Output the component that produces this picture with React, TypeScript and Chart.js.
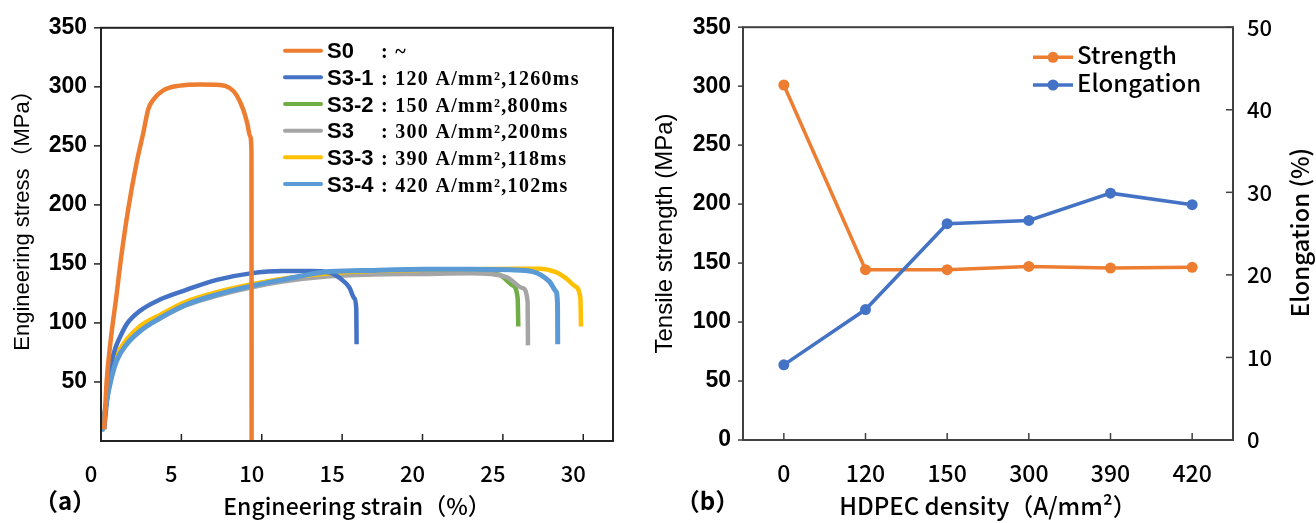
import React, { useEffect, useRef } from 'react';
import { Chart, registerables } from 'chart.js';

Chart.register(...registerables);

// ---------- Panel (a): engineering stress-strain curves ----------
const strainS0 = [0.2, 0.35, 0.6, 0.97, 1.22, 1.7, 2.22, 2.63, 2.94, 3.25, 3.87, 4.91, 6.15, 7.39, 8.01, 8.43, 8.84, 9.1, 9.28, 9.36, 9.37];
const stressS0 = [10, 50, 85, 124, 152, 197, 236, 261, 281, 289, 297, 301, 302, 301.6, 299, 293, 281, 269, 258, 245, 0];

const strainS31 = [0.2, 0.45, 0.65, 0.9, 1.18, 1.6, 2.4, 3.7, 5.3, 7.2, 9.3, 11.3, 13.0, 14.2, 14.85, 15.45, 15.75, 15.88, 15.9];
const stressS31 = [10, 45, 66, 79, 88, 99, 110, 120, 128, 136.5, 142, 144, 144, 143, 138, 130, 121, 112, 82];

const strainS32 = [0.1, 0.4, 0.7, 1.0, 1.6, 2.4, 3.7, 5.3, 7.2, 9.3, 11.3, 14.2, 17, 20, 23, 24.78, 25.6, 25.92, 25.96];
const stressS32 = [9, 39, 59, 72, 85, 96, 106, 117, 125.5, 132, 137, 141.5, 142.5, 143, 143, 140.8, 132, 121, 97];

const strainS3 = [0.1, 0.4, 0.7, 1.0, 1.6, 2.4, 3.7, 5.3, 7.2, 9.3, 11.3, 14.2, 17, 20, 23, 25.2, 26.23, 26.54, 26.56];
const stressS3 = [9, 38, 57, 70, 83, 94, 104, 115, 123, 130, 135, 139.5, 141, 141.5, 142, 139, 129.5, 118, 81];

const strainS33 = [0.1, 0.4, 0.7, 1.0, 1.6, 2.4, 3.7, 5.3, 7.2, 9.3, 11.3, 14.2, 17, 20, 23, 26, 27.27, 28.3, 28.92, 29.5, 29.82, 29.86];
const stressS33 = [9, 40, 60, 73, 86, 97, 107, 118, 126, 132.5, 137.5, 142, 144, 145, 145.5, 146, 146, 143, 138, 131, 121, 97];

const strainS34 = [0.05, 0.35, 0.66, 0.97, 1.6, 2.42, 3.66, 5.32, 7.19, 9.25, 11.32, 14.2, 17, 20, 23, 25.5, 26.85, 27.9, 28.3, 28.4, 28.41];
const stressS34 = [8, 34, 54, 68, 82, 93, 104, 115.6, 124, 131, 136.6, 143.5, 144.5, 145.5, 145.5, 145, 143.5, 135, 126.7, 115.6, 82];

const seriesNamesA = ['S0', 'S3-1', 'S3-2', 'S3', 'S3-3', 'S3-4'];
const seriesNotesA = [': ~', ': 120 A/mm²,1260ms', ': 150 A/mm²,800ms', ': 300 A/mm²,200ms', ': 390 A/mm²,118ms', ': 420 A/mm²,102ms'];
const seriesStrainA = [strainS0, strainS31, strainS32, strainS3, strainS33, strainS34];
const seriesStressA = [stressS0, stressS31, stressS32, stressS3, stressS33, stressS34];
const seriesColorsA = ['#ED7D31', '#4472C4', '#70AD47', '#A5A5A5', '#FFC000', '#5B9BD5'];
const seriesOrderA = [0, 2, 5, 4, 3, 1];

const strainTicksA = [0, 5, 10, 15, 20, 25, 30];
const stressTicksA = [50, 100, 150, 200, 250, 300, 350];

// ---------- Panel (b): strength / elongation vs HDPEC density ----------
const densityLabels = ['0', '120', '150', '300', '390', '420'];
const strengthValues = [301, 144.4, 144.4, 147.2, 145.8, 146.4];
const elongationValues = [9.1, 15.8, 26.2, 26.6, 29.9, 28.5];
const strengthTicks = [0, 50, 100, 150, 200, 250, 300, 350];
const elongationTicks = [0, 10, 20, 30, 40, 50];

const ARIAL = '"Liberation Sans", Arial, "Noto Sans CJK JP", sans-serif';
const GOTHIC = '"Noto Sans CJK JP", "Noto Sans", sans-serif';
const TIMES = '"Liberation Serif", "Times New Roman", serif';

function line(ctx: CanvasRenderingContext2D, x1: number, y1: number, x2: number, y2: number) {
  ctx.beginPath();
  ctx.moveTo(x1, y1);
  ctx.lineTo(x2, y2);
  ctx.stroke();
}

function rotatedText(ctx: CanvasRenderingContext2D, text: string, x: number, y: number, font: string) {
  ctx.save();
  ctx.translate(x, y);
  ctx.rotate(-Math.PI / 2);
  ctx.font = font;
  ctx.fillStyle = '#000';
  ctx.textAlign = 'center';
  ctx.textBaseline = 'alphabetic';
  ctx.fillText(text, 0, 0);
  ctx.restore();
}

const panelAPlugin = {
  id: 'panelA',
  afterDraw(chart: any) {
    const { ctx, chartArea: ca, scales } = chart;
    ctx.save();
    ctx.strokeStyle = '#222';
    ctx.lineWidth = 1.5;
    scales.y.ticks.forEach((t: any) => {
      const py = scales.y.getPixelForValue(t.value);
      line(ctx, ca.left - 7, py, ca.left, py);
    });
    scales.x.ticks.forEach((t: any) => {
      const px = scales.x.getPixelForValue(t.value);
      if (px > ca.left + 2) line(ctx, px, ca.bottom, px, ca.bottom - 7);
    });
    ctx.lineWidth = 2;
    ctx.strokeRect(ca.left, ca.top, ca.right - ca.left, ca.bottom - ca.top);

    // legend
    seriesNamesA.forEach((name, i) => {
      const y = 50.7 + i * 26.66;
      ctx.strokeStyle = seriesColorsA[i];
      ctx.lineWidth = 4;
      ctx.lineCap = 'round';
      line(ctx, 285, y, 321, y);
      ctx.fillStyle = '#000';
      ctx.textAlign = 'left';
      ctx.textBaseline = 'alphabetic';
      ctx.font = `bold 22px ${ARIAL}`;
      (ctx as any).letterSpacing = '0px';
      ctx.fillText(name, 327, y + 7.5);
      ctx.font = `bold 20px ${TIMES}`;
      (ctx as any).letterSpacing = '1.3px';
      ctx.fillText(seriesNotesA[i], 381, y + 7.5);
      (ctx as any).letterSpacing = '0px';
    });

    rotatedText(ctx, 'Engineering stress（MPa）', 29, 215, `22px ${ARIAL}`);

    ctx.font = `bold 24px ${GOTHIC}`;
    ctx.fillStyle = '#000';
    ctx.textAlign = 'center';
    ctx.textBaseline = 'alphabetic';
    ctx.fillText('（a）', 65, 510);
    ctx.restore();
  },
};

const panelBPlugin = {
  id: 'panelB',
  afterDraw(chart: any) {
    const { ctx, chartArea: ca, scales } = chart;
    ctx.save();
    ctx.strokeStyle = '#404040';
    ctx.lineWidth = 1.5;
    scales.y.ticks.forEach((t: any) => {
      const py = scales.y.getPixelForValue(t.value);
      line(ctx, ca.left - 5, py, ca.left, py);
    });
    scales.y1.ticks.forEach((t: any) => {
      const py = scales.y1.getPixelForValue(t.value);
      line(ctx, ca.right, py, ca.right - 7, py);
    });
    scales.x.ticks.forEach((t: any, i: number) => {
      const px = scales.x.getPixelForTick(i);
      line(ctx, px, ca.bottom, px, ca.bottom - 7);
    });
    ctx.lineWidth = 2;
    ctx.strokeRect(ca.left, ca.top, ca.right - ca.left, ca.bottom - ca.top);

    // legend
    chart.data.datasets.forEach((ds: any, i: number) => {
      const y = 57.3 + i * 27.7;
      ctx.strokeStyle = ds.borderColor;
      ctx.fillStyle = ds.borderColor;
      ctx.lineWidth = 3.5;
      ctx.lineCap = 'butt';
      line(ctx, 393, y, 433, y);
      ctx.beginPath();
      ctx.arc(413, y, 5.5, 0, Math.PI * 2);
      ctx.fill();
      ctx.fillStyle = '#000';
      ctx.font = `500 24px ${GOTHIC}`;
      ctx.textAlign = 'left';
      ctx.textBaseline = 'alphabetic';
      ctx.fillText(ds.label, 437, y + 6.5);
    });

    rotatedText(ctx, 'Tensile strength (MPa)', 32, 233.5, `24px ${ARIAL}`);
    rotatedText(ctx, 'Elongation (%)', 669, 232.5, `500 24px ${GOTHIC}`);

    ctx.font = `bold 24px ${GOTHIC}`;
    ctx.fillStyle = '#000';
    ctx.textAlign = 'center';
    ctx.textBaseline = 'alphabetic';
    ctx.fillText('（b）', 67.5, 510);
    ctx.restore();
  },
};

export default function App() {
  const refA = useRef<HTMLCanvasElement>(null);
  const refB = useRef<HTMLCanvasElement>(null);

  useEffect(() => {
    const chartA = new Chart(refA.current as HTMLCanvasElement, {
      type: 'scatter',
      data: {
        datasets: seriesNamesA.map((name, i) => ({
          label: name,
          data: seriesStrainA[i].map((x, j) => ({ x, y: seriesStressA[i][j] })),
          borderColor: seriesColorsA[i],
          backgroundColor: seriesColorsA[i],
          borderWidth: i === 5 ? 5 : 4.5,
          pointRadius: 0,
          showLine: true,
          fill: false,
          cubicInterpolationMode: 'monotone',
          order: seriesOrderA[i],
        })),
      },
      options: {
        responsive: false,
        animation: false,
        devicePixelRatio: 1,
        layout: { padding: { left: 0, top: 24, right: 27, bottom: 0 } },
        plugins: { legend: { display: false }, tooltip: { enabled: false } },
        scales: {
          x: {
            type: 'linear',
            min: 0,
            max: 31.85,
            afterBuildTicks: (s: any) => { s.ticks = strainTicksA.map((v) => ({ value: v })); },
            afterFit: (s: any) => { s.height = 82; },
            grid: { display: false, drawTicks: false },
            border: { display: false },
            ticks: { color: '#000', font: { family: GOTHIC, size: 22, weight: '500' }, padding: 19, labelOffset: -10, maxRotation: 0, autoSkip: false },
            title: { display: true, text: 'Engineering strain（%）', color: '#000', font: { family: GOTHIC, size: 23, weight: '500' }, padding: { top: 0, bottom: 3 } },
          },
          y: {
            min: 0,
            max: 350,
            afterBuildTicks: (s: any) => { s.ticks = stressTicksA.map((v) => ({ value: v })); },
            afterFit: (s: any) => { s.width = 101; },
            grid: { display: false, drawTicks: false },
            border: { display: false },
            ticks: { color: '#000', font: { family: ARIAL, size: 23, weight: 'bold' }, padding: 14 },
          },
        },
      },
      plugins: [panelAPlugin],
    } as any);

    const chartB = new Chart(refB.current as HTMLCanvasElement, {
      type: 'line',
      data: {
        labels: densityLabels,
        datasets: [
          {
            label: 'Strength',
            data: strengthValues,
            yAxisID: 'y',
            borderColor: '#ED7D31',
            backgroundColor: '#ED7D31',
            borderWidth: 3.5,
            pointRadius: 5.5,
            pointBorderWidth: 0,
            order: 1,
          },
          {
            label: 'Elongation',
            data: elongationValues,
            yAxisID: 'y1',
            borderColor: '#4472C4',
            backgroundColor: '#4472C4',
            borderWidth: 3.5,
            pointRadius: 5.5,
            pointBorderWidth: 0,
            order: 0,
          },
        ],
      },
      options: {
        responsive: false,
        animation: false,
        devicePixelRatio: 1,
        layout: { padding: { left: 0, top: 24, right: 0, bottom: 0 } },
        plugins: { legend: { display: false }, tooltip: { enabled: false } },
        scales: {
          x: {
            type: 'category',
            offset: true,
            afterFit: (s: any) => { s.height = 83; },
            grid: { display: false, drawTicks: false, offset: false },
            border: { display: false },
            ticks: { color: '#000', font: { family: GOTHIC, size: 23, weight: '500' }, padding: 19, maxRotation: 0, autoSkip: false },
            title: { display: true, text: 'HDPEC density（A/mm²）', color: '#000', font: { family: GOTHIC, size: 24, weight: '500' }, padding: { top: 0, bottom: 3 } },
          },
          y: {
            position: 'left',
            min: 0,
            max: 350,
            afterBuildTicks: (s: any) => { s.ticks = strengthTicks.map((v) => ({ value: v })); },
            afterFit: (s: any) => { s.width = 103; },
            grid: { display: false, drawTicks: false },
            border: { display: false },
            ticks: { color: '#000', font: { family: ARIAL, size: 23, weight: 'bold' }, padding: 12 },
          },
          y1: {
            position: 'right',
            min: 0,
            max: 50,
            afterBuildTicks: (s: any) => { s.ticks = elongationTicks.map((v) => ({ value: v })); },
            afterFit: (s: any) => { s.width = 83; },
            grid: { display: false, drawTicks: false },
            border: { display: false },
            ticks: { color: '#000', font: { family: GOTHIC, size: 22, weight: '500' }, padding: 14 },
          },
        },
      },
      plugins: [panelBPlugin],
    } as any);

    return () => {
      chartA.destroy();
      chartB.destroy();
    };
  }, []);

  return (
    <div style={{ position: 'fixed', left: 0, top: 0, width: 1316, height: 523, background: '#fff' }}>
      <canvas ref={refA} width={640} height={523} style={{ position: 'absolute', left: 0, top: 0 }} />
      <canvas ref={refB} width={676} height={523} style={{ position: 'absolute', left: 640, top: 0 }} />
    </div>
  );
}
